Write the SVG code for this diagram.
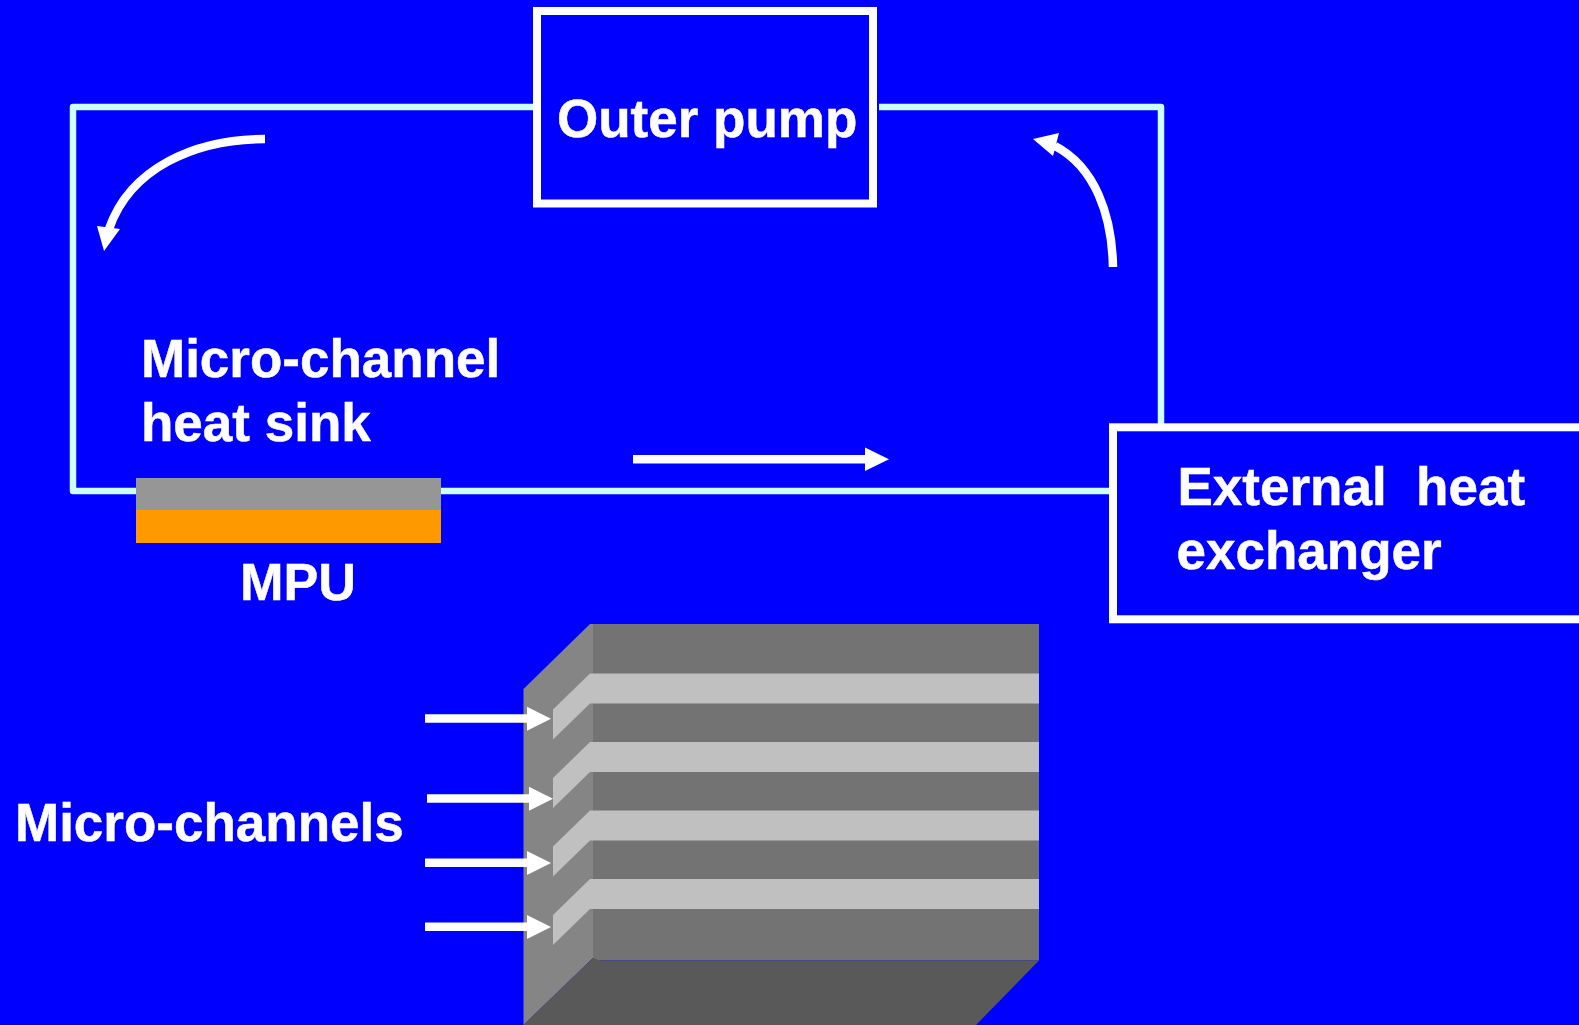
<svg xmlns="http://www.w3.org/2000/svg" width="1579" height="1025" viewBox="0 0 1579 1025">
<style>
.t{font-family:"Liberation Sans",Arial,sans-serif;font-weight:700;font-size:53px;fill:#fff;stroke:#fff;stroke-width:.5}
.pipe{fill:none;stroke:#ccffff;stroke-width:6.5;stroke-linejoin:round;stroke-linecap:butt}
.box{fill:#0000ff;stroke:#fff;stroke-width:8}
.shaft{fill:none;stroke:#fff;stroke-width:8.500}
.head{fill:#fff}
.stripe{fill:#c0c0c0}
</style>
<rect width="1579" height="1025" fill="#0000ff"/>
<g id="connectors">
<path class="pipe" d="M533 107H73V491H1109"/>
<path class="pipe" d="M879 107H1161V424"/>
<path class="shaft" d="M265 139C195 139 130 168 109 229"/>
<polygon class="head" points="97,226 120,229 104,251"/>
<path class="shaft" d="M1113 267C1112 215 1095 167 1055 146"/>
<polygon class="head" points="1033,139 1059,133 1053,156"/>
<path class="shaft" d="M633 459.300H866"/>
<polygon class="head" points="865,447.500 889,459.300 865,471"/>
</g>
<g id="outer-pump">
<rect class="box" x="537" y="11" width="336" height="192.500"/>
<text class="t" x="557" y="137">Outer pump</text>
</g>
<g id="heat-exchanger">
<rect class="box" x="1113" y="427.300" width="480" height="192"/>
<text class="t" x="1177.500" y="505" xml:space="preserve">External  heat</text>
<text class="t" x="1176.500" y="569">exchanger</text>
</g>
<g id="heat-sink">
<text class="t" x="141" y="377">Micro-channel</text>
<text class="t" x="141" y="441">heat sink</text>
<rect x="136" y="478" width="305" height="32" fill="#969696"/>
<rect x="136" y="510" width="305" height="33" fill="#ff9900"/>
</g>
<g id="mpu"><text class="t" x="240" y="600" style="font-size:52.200px">MPU</text></g>
<g id="channels-block">
<polygon points="593,624 1039,624 1039,960.500 593,960.500" fill="#737373"/>
<polygon points="523.500,689 590,624 593,624 593,958 523.500,1025" fill="#858585"/>
<polygon points="523.500,1025 593,958 600,960.500 1039,960.500 976,1025" fill="#595959"/>
<polygon class="stripe" points="553,709.500 590,673.500 1039,673.500 1039,703.500 590,703.500 553,739.500"/>
<polygon class="stripe" points="553,778 590,742 1039,742 1039,772 590,772 553,808"/>
<polygon class="stripe" points="553,846.500 590,810.500 1039,810.500 1039,840.500 590,840.500 553,876.500"/>
<polygon class="stripe" points="553,915 590,879 1039,879 1039,909 590,909 553,945"/>
</g>
<g id="channel-arrows">
<path class="shaft" d="M425 718.500H528M427 798.500H530M425 862.700H528M425 926.700H528"/>
<polygon class="head" points="527,706.700 551,718.700 527,730.700"/>
<polygon class="head" points="529,786.700 553,798.700 529,810.700"/>
<polygon class="head" points="527,851 551,863 527,875"/>
<polygon class="head" points="527,915 551,927 527,939"/>
</g>
<g id="micro-channels"><text class="t" x="15" y="841">Micro-channels</text></g>
</svg>
